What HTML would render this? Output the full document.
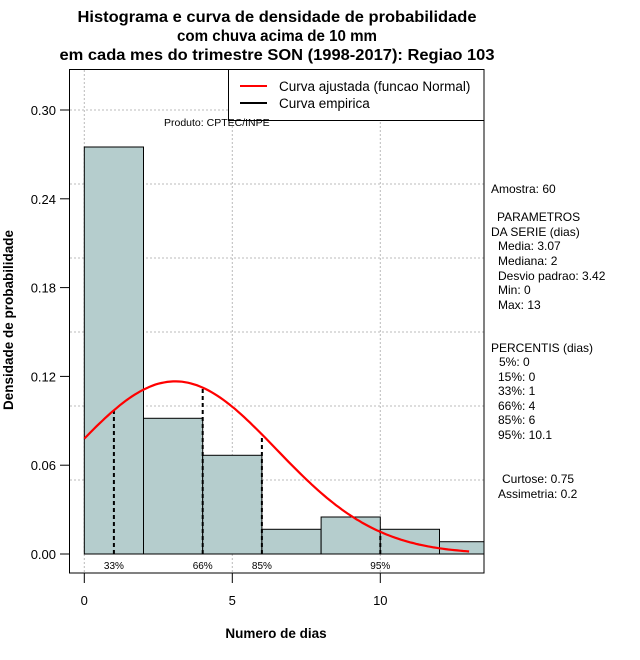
<!DOCTYPE html>
<html><head><meta charset="utf-8"><style>
html,body{margin:0;padding:0;background:#fff}
svg{display:block;font-family:"Liberation Sans",sans-serif}
</style></head><body>
<svg id="chart" width="640" height="660" viewBox="0 0 640 660">
<g font-weight="bold" font-size="16" text-anchor="middle">
<text x="277" y="22" textLength="399" lengthAdjust="spacingAndGlyphs">Histograma e curva de densidade de probabilidade</text>
<text x="277" y="41" textLength="200" lengthAdjust="spacingAndGlyphs">com chuva acima de 10 mm</text>
<text x="277" y="60" textLength="435" lengthAdjust="spacingAndGlyphs">em cada mes do trimestre SON (1998-2017): Regiao 103</text>
</g>
<g id="grid"></g>
<g id="bars"></g>
<g id="pct"></g>
<path id="curve" fill="none" stroke="#f00" stroke-width="2.2"/>
<g id="axes"></g>
<rect x="69.5" y="69.5" width="414.5" height="503.5" fill="none" stroke="#000"/>
<g>
<rect x="228.5" y="69.5" width="255.5" height="51" fill="#fff" stroke="#000"/>
<line x1="240" y1="86" x2="267" y2="86" stroke="#f00" stroke-width="2"/>
<line x1="240" y1="103" x2="267" y2="103" stroke="#000" stroke-width="2"/>
<text x="279" y="91" font-size="13.5">Curva ajustada (funcao Normal)</text>
<text x="279" y="108" font-size="13.5">Curva empirica</text>
</g>
<text x="164" y="126" font-size="10.5">Produto: CPTEC/INPE</text>
<text x="0" y="0" transform="translate(13,320) rotate(-90)" text-anchor="middle" font-weight="bold" font-size="13.5">Densidade de probabilidade</text>
<text x="276" y="638" text-anchor="middle" font-weight="bold" font-size="13.5">Numero de dias</text>
<g font-size="12">
<text x="491" y="193">Amostra: 60</text>
<text x="497" y="221">PARAMETROS</text>
<text x="491" y="236">DA SERIE (dias)</text>
<text x="498" y="250">Media: 3.07</text>
<text x="498" y="265">Mediana: 2</text>
<text x="498" y="280">Desvio padrao: 3.42</text>
<text x="498" y="294">Min: 0</text>
<text x="498" y="309">Max: 13</text>
<text x="491" y="352">PERCENTIS (dias)</text>
<text x="499" y="366">5%: 0</text>
<text x="498" y="381">15%: 0</text>
<text x="498" y="395">33%: 1</text>
<text x="498" y="410">66%: 4</text>
<text x="498" y="424">85%: 6</text>
<text x="498" y="439">95%: 10.1</text>
<text x="502" y="483">Curtose: 0.75</text>
<text x="498" y="498">Assimetria: 0.2</text>
</g>
</svg>
<script>
const binStarts=[0,2,4,6,8,10,12];
const binWidth=2;
const densities=[0.275,0.0917,0.0667,0.0167,0.025,0.0167,0.0083];
const yTicks=[0,0.06,0.12,0.18,0.24,0.30];
const yTickLabels=["0.00","0.06","0.12","0.18","0.24","0.30"];
const yGrid=[0.05,0.10,0.15,0.20,0.25,0.30];
const xTicks=[0,5,10];
const percentileValues=[1,4,6,10];
const percentileLabels=["33%","66%","85%","95%"];
const fitMean=3.07;
const fitSd=3.42;
const curveRange=[0,13];
const NS="http://www.w3.org/2000/svg";
const X=v=>84.3+v*29.6, Y=v=>554-v*1480, XMAX=484;
function mk(t,a,p){const e=document.createElementNS(NS,t);for(const k in a)e.setAttribute(k,a[k]);p.appendChild(e);return e;}
const pdf=x=>Math.exp(-0.5*((x-fitMean)/fitSd)**2)/(fitSd*Math.sqrt(2*Math.PI));
const grid=document.getElementById('grid');
yGrid.forEach(v=>{const l=mk('line',{x1:70,x2:XMAX,y1:Y(v),y2:Y(v),stroke:'#bbb','stroke-dasharray':'2,2'},grid);

});
xTicks.forEach(v=>{const l=mk('line',{x1:X(v),x2:X(v),y1:70,y2:573,stroke:'#bbb','stroke-dasharray':'2,2'},grid);

});
const bars=document.getElementById('bars');
binStarts.forEach((s,i)=>{const x0=X(s),x1=Math.min(X(s+binWidth),XMAX);
const r=mk('rect',{x:x0,y:Y(densities[i]),width:x1-x0,height:Y(0)-Y(densities[i]),fill:'#b5cdcd',stroke:'#000','stroke-width':1},bars);

});
mk('line',{x1:X(0),x2:XMAX,y1:Y(0),y2:Y(0),stroke:'#000','stroke-dasharray':'1,2'},bars);
const pct=document.getElementById('pct');
percentileValues.forEach((v,i)=>{const l=mk('line',{x1:X(v),x2:X(v),y1:Y(0),y2:Y(pdf(v)),stroke:'#000','stroke-width':2,'stroke-dasharray':'4,3'},pct);


const t=mk('text',{x:X(v),y:569,'text-anchor':'middle','font-size':10},pct);t.textContent=percentileLabels[i];

});
let d='';for(let k=0;k<=130;k++){const x=curveRange[0]+(curveRange[1]-curveRange[0])*k/130;d+=(k?'L':'M')+X(x).toFixed(1)+','+Y(pdf(x)).toFixed(1);}
document.getElementById('curve').setAttribute('d',d);
const axes=document.getElementById('axes');
yTicks.forEach((v,i)=>{mk('line',{x1:60,x2:69,y1:Y(v),y2:Y(v),stroke:'#000'},axes);
const t=mk('text',{x:56,y:Y(v)+5,'text-anchor':'end','font-size':13},axes);t.textContent=yTickLabels[i];

});
xTicks.forEach(v=>{mk('line',{x1:X(v),x2:X(v),y1:573,y2:583,stroke:'#000'},axes);
const t=mk('text',{x:X(v),y:605,'text-anchor':'middle','font-size':13},axes);t.textContent=v;

});
</script>
</body></html>
